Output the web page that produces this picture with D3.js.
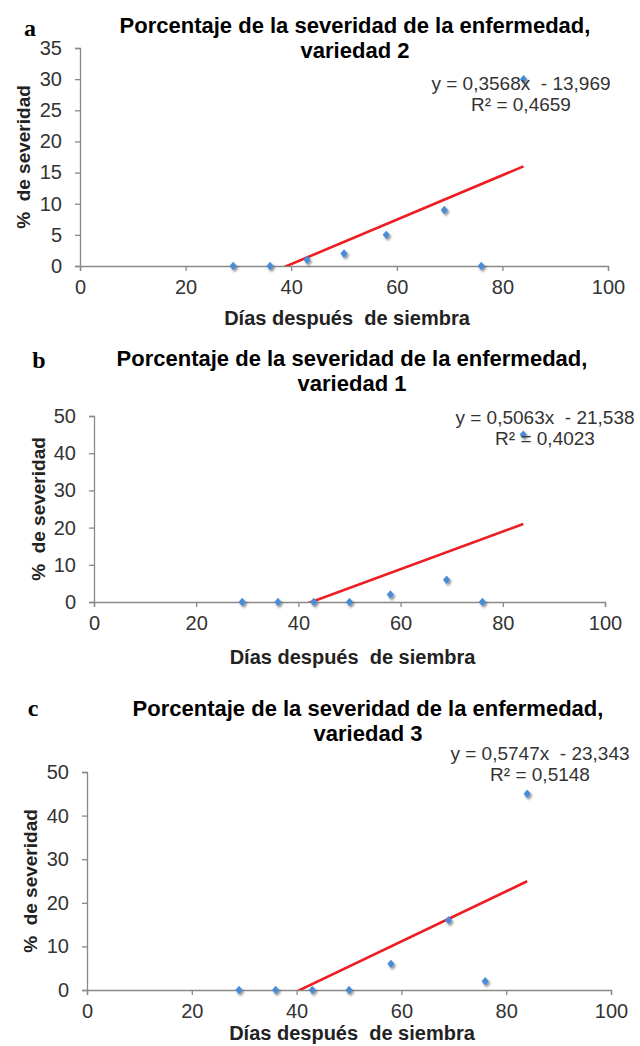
<!DOCTYPE html>
<html lang="es">
<head>
<meta charset="utf-8">
<title>Severidad de la enfermedad</title>
<style>
  body { margin: 0; background: #fff; }
  svg { display: block; font-family: "Liberation Sans", Arial, sans-serif; }
  svg text { white-space: pre; }
</style>
</head>
<body>
<svg width="640" height="1046"></svg>
<script src="https://d3js.org/d3.v7.min.js"></script>
<script>
// data
var dias = [29, 36, 43, 50, 58, 69, 76, 84];
var sevVariedad2 = [0, 0, 1, 2, 5, 9, 0, 30];
var sevVariedad1 = [0, 0, 0, 0, 2, 6, 0, 45];
var sevVariedad3 = [0, 0, 0, 0, 6, 16, 2, 45];

var xTicks = [0, 20, 40, 60, 80, 100];
var yTicksA = [0, 5, 10, 15, 20, 25, 30, 35];
var yTicksB = [0, 10, 20, 30, 40, 50];
var yTicksC = [0, 10, 20, 30, 40, 50];

var letters = ["a", "b", "c"];
var titleLine1 = "Porcentaje de la severidad de la enfermedad,";
var titleLine2 = ["variedad 2", "variedad 1", "variedad 3"];
var slopes = [0.3568, 0.5063, 0.5747];
var intercepts = [-13.969, -21.538, -23.343];
var eqLabels = ["y = 0,3568x  - 13,969", "y = 0,5063x  - 21,538", "y = 0,5747x  - 23,343"];
var r2Labels = ["R\u00b2 = 0,4659", "R\u00b2 = 0,4023", "R\u00b2 = 0,5148"];
var xTitle = "D\u00edas despu\u00e9s  de siembra";
var yTitle = "%  de severidad";

// page layout of the three panels
var layout = [
  {left: 80, right: 608, bottom: 266, top: 48, yMax: 35, letter: [30, 28], title: [355, 25], eq: [521, 83], ytitle: 23, xtitleY: 318},
  {left: 94, right: 605, bottom: 602, top: 416, yMax: 50, letter: [39, 360], title: [352, 358], eq: [545, 417], ytitle: 38, xtitleY: 657},
  {left: 87, right: 611, bottom: 990, top: 772, yMax: 50, letter: [33, 708], title: [368, 708], eq: [540, 753], ytitle: 30, xtitleY: 1033}
];
var series = [sevVariedad2, sevVariedad1, sevVariedad3];
var yTickSets = [yTicksA, yTicksB, yTicksC];

var svg = d3.select("svg");

var defs = svg.append("defs");
var shadow = defs.append("filter").attr("id", "sombra")
    .attr("x", "-100%").attr("y", "-100%").attr("width", "300%").attr("height", "300%");
shadow.append("feDropShadow")
    .attr("dx", 1.5).attr("dy", 2)
    .attr("stdDeviation", 1.3)
    .attr("flood-color", "#000")
    .attr("flood-opacity", 0.45);

var diamond = "M0,-4.2L3.6,0L0,4.2L-3.6,0Z";

layout.forEach(function(p, i) {
  var x = d3.scaleLinear().domain([0, 100]).range([p.left, p.right]);
  var y = d3.scaleLinear().domain([0, p.yMax]).range([p.bottom, p.top]);
  var g = svg.append("g");

  // letter
  g.append("text")
      .attr("x", p.letter[0]).attr("y", p.letter[1])
      .attr("dy", "0.35em")
      .attr("text-anchor", "middle")
      .style("font-family", "'Liberation Serif', 'Times New Roman', serif")
      .style("font-weight", "bold")
      .style("font-size", "24px")
      .text(letters[i]);

  // title
  var t = g.append("text")
      .attr("text-anchor", "middle")
      .style("font-weight", "bold")
      .style("font-size", "22px")
      .attr("fill", "#000");
  t.append("tspan").attr("x", p.title[0]).attr("y", p.title[1]).attr("dy", "0.35em").text(titleLine1);
  t.append("tspan").attr("x", p.title[0]).attr("y", p.title[1] + 25).attr("dy", "0.35em").text(titleLine2[i]);

  // axes
  var xAxis = g.append("g")
      .attr("transform", "translate(0," + p.bottom + ")")
      .call(d3.axisBottom(x).tickValues(xTicks).tickSize(5).tickPadding(9).tickSizeOuter(5));
  var yAxis = g.append("g")
      .attr("transform", "translate(" + p.left + ",0)")
      .call(d3.axisLeft(y).tickValues(yTickSets[i]).tickSize(5).tickPadding(13).tickSizeOuter(5));

  [xAxis, yAxis].forEach(function(a) {
    a.select(".domain").attr("stroke", "#888").attr("stroke-width", 1.3);
    a.selectAll(".tick line").attr("stroke", "#888").attr("stroke-width", 1.3);
    a.selectAll(".tick text")
        .attr("fill", "#333")
        .style("font-family", "'Liberation Sans', Arial, sans-serif")
        .style("font-size", "20px");
  });

  // trendline, clipped at the plot area
  var clipId = "clip" + i;
  defs.append("clipPath").attr("id", clipId)
    .append("rect")
      .attr("x", p.left).attr("y", p.top)
      .attr("width", p.right - p.left).attr("height", p.bottom - p.top);

  var xs = d3.extent(dias);
  var trend = xs.map(function(d) { return [d, slopes[i] * d + intercepts[i]]; });
  g.append("path")
      .datum(trend)
      .attr("clip-path", "url(#" + clipId + ")")
      .attr("fill", "none")
      .attr("stroke", "#EE1D23")
      .attr("stroke-width", 2.6)
      .attr("d", d3.line().x(function(d) { return x(d[0]); }).y(function(d) { return y(d[1]); }));

  // points
  g.append("g").selectAll("path")
    .data(dias.map(function(d, k) { return [d, series[i][k]]; }))
    .enter().append("path")
      .attr("d", diamond)
      .attr("transform", function(d) { return "translate(" + x(d[0]) + "," + y(d[1]) + ")"; })
      .attr("fill", "#4A8CD6")
      .attr("filter", "url(#sombra)");

  // equation
  var eq = g.append("text")
      .attr("text-anchor", "middle")
      .attr("fill", "#333")
      .style("font-size", "19px");
  eq.append("tspan").attr("x", p.eq[0]).attr("y", p.eq[1]).attr("dy", "0.35em").text(eqLabels[i]);
  eq.append("tspan").attr("x", p.eq[0]).attr("y", p.eq[1] + 21.5).attr("dy", "0.35em").text(r2Labels[i]);

  // axis titles
  g.append("text")
      .attr("x", (p.left + p.right) / 2 + 3)
      .attr("y", p.xtitleY)
      .attr("dy", "0.35em")
      .attr("text-anchor", "middle")
      .attr("fill", "#222")
      .style("font-weight", "bold")
      .style("font-size", "20px")
      .text(xTitle);

  g.append("text")
      .attr("transform", "translate(" + p.ytitle + "," + (p.top + p.bottom) / 2 + ") rotate(-90)")
      .attr("dy", "0.35em")
      .attr("text-anchor", "middle")
      .attr("fill", "#222")
      .style("font-weight", "bold")
      .style("font-size", "19px")
      .text(yTitle);
});
</script>
</body>
</html>
